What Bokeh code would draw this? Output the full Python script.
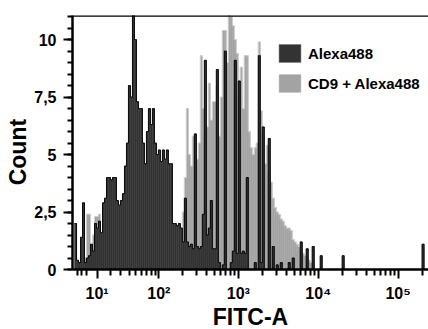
import numpy as np
from bokeh.plotting import figure
from bokeh.models import FixedTicker, Span, Legend, LegendItem, Range1d
from bokeh.embed import file_html
from bokeh.resources import INLINE

# ---- data -----------------------------------------------------------------
# Histogram channels on a logicle-like display scale (asinh with linear width W)
LOGICLE_W = 22.0
BIN_START = -0.0915      # first channel edge, display units
BIN_WIDTH = 0.025        # channel width, display units

# Count per channel, Alexa488 only (dark)
alexa488 = [
    2.0, 0.4, 0.3, 1.4, 2.9, 0.3, 0.5, 0.6, 1.1, 0.8,
    2.0, 1.8, 2.1, 1.6, 2.9, 3.1, 4.0, 4.0, 3.9, 4.0,
    4.0, 3.0, 2.8, 3.0, 3.3, 4.5, 5.5, 8.0, 7.5, 11.2,
    10.0, 7.3, 7.0, 7.0, 5.5, 4.6, 6.0, 7.0, 6.3, 7.0,
    5.5, 5.0, 5.2, 4.7, 5.2, 4.8, 5.2, 4.6, 4.6, 2.0,
    2.0, 1.9, 2.0, 1.8, 1.2, 3.1, 1.2, 1.0, 1.1, 0.9,
    5.9, 1.0, 0.9, 1.0, 2.4, 9.1, 1.5, 1.8, 3.0, 0.9,
    0.9, 8.7, 0.3, 0.0, 0.2, 9.5, 0.0, 0.0, 0.3, 0.8,
    9.1, 0.7, 8.2, 0.7, 0.8, 0.7, 4.0, 0.0, 0.0, 0.0,
    0.3, 0.0, 9.3, 0.3, 6.2, 0.0, 0.0, 5.7, 0.0, 1.0,
    0.0, 0.2, 0.0, 0.3, 0.0, 0.0, 0.0, 0.3, 0.0, 0.5,
    0.0, 0.0, 0.0, 1.2, 0.0, 0.0, 0.9, 0.0, 0.0, 1.0,
    0.0, 0.0, 0.0, 0.6, 0.0, 0.0, 0.0, 0.0, 0.0, 0.0,
    0.0, 0.0, 0.0, 0.0, 0.6, 0.0, 0.0, 0.0, 0.0, 0.0,
    0.0, 0.0, 0.0, 0.0, 0.0, 0.0, 0.0, 0.0, 0.0, 0.0,
    0.0, 0.0, 0.0, 0.0, 0.0, 0.0, 0.0, 0.0, 0.0, 0.0,
    0.0, 0.0, 0.0, 0.0, 0.0, 0.0, 0.0, 0.0, 0.0, 0.0,
    0.0, 0.0, 0.0, 0.0, 1.1, 0.0,
]

# Count per channel, CD9 + Alexa488 (light)
cd9_alexa488 = [
    0.0, 0.0, 0.3, 0.0, 0.0, 0.5, 2.4, 2.4, 0.8, 1.5,
    2.3, 2.3, 2.4, 1.0, 0.0, 0.0, 0.0, 0.0, 0.0, 0.0,
    0.0, 0.0, 0.0, 0.0, 0.0, 0.0, 0.0, 0.0, 0.0, 0.0,
    0.0, 0.0, 0.0, 0.0, 0.0, 0.0, 0.0, 0.0, 0.0, 0.0,
    0.0, 0.0, 0.0, 0.0, 0.0, 0.0, 0.0, 0.0, 0.0, 0.0,
    0.0, 0.0, 0.0, 0.8, 2.5, 4.0, 7.0, 5.0, 4.5, 5.8,
    5.8, 4.8, 5.5, 9.3, 7.0, 6.0, 6.2, 8.1, 6.5, 7.3,
    7.3, 8.0, 5.8, 7.5, 10.4, 10.4, 9.0, 11.2, 11.0, 10.6,
    10.0, 9.4, 7.5, 8.8, 7.0, 9.3, 9.3, 6.0, 5.3, 5.0,
    5.3, 5.5, 9.9, 6.9, 6.0, 4.6, 5.4, 4.2, 3.8, 3.1,
    2.7, 2.5, 2.4, 2.2, 2.1, 1.9, 1.8, 1.8, 1.7, 1.3,
    1.2, 1.1, 1.0, 0.8, 0.7, 0.6, 0.5, 0.4, 0.3, 0.3,
]

series_names = ["Alexa488", "CD9 + Alexa488"]

# axis values (FITC-A)
x_major_values = [10, 100, 1000, 10000, 100000]
x_major_labels = ["10\u00b9", "10\u00b2", "10\u00b3", "10\u2074", "10\u2075"]
x_low_minor_values = [-6, -3, 0, 3]
x_min_value, x_max_value = -6, 240000

y_major_values = [0, 2.5, 5, 7.5, 10]
y_major_labels = ["0", "2,5", "5", "7,5", "10"]
y_max = 11.05

# ---- helpers ----------------------------------------------------------------
def disp(x):
    return np.arcsinh(np.asarray(x, dtype=float) / LOGICLE_W) / np.log(10)


def bins(counts):
    n = len(counts)
    edges = BIN_START + BIN_WIDTH * np.arange(n + 1)
    return edges, np.asarray(counts, dtype=float)


FONT = "Liberation Sans"

p = figure(frame_width=356, frame_height=254, output_backend="svg",
           toolbar_location=None,
           x_range=Range1d(float(disp(x_min_value)), float(disp(x_max_value))),
           y_range=Range1d(0, y_max),
           min_border_left=72, min_border_right=0, min_border_top=15,
           min_border_bottom=10)
p.outline_line_color = None
p.grid.visible = False
p.background_fill_color = "white"
p.border_fill_color = "white"

# light histogram (behind)
e2, c2 = bins(cd9_alexa488)
r_light = p.quad(left=e2[:-1], right=e2[1:], bottom=0, top=c2,
                 fill_color="#a3a3a3", line_color="#a3a3a3", line_width=0.5)
p.step(x=e2, y=np.append(c2, c2[-1]), mode="after",
       line_color="#cfcfcf", line_width=1)

# dark histogram (front)
e1, c1 = bins(alexa488)
r_dark = p.quad(left=e1[:-1], right=e1[1:], bottom=0, top=c1,
                fill_color="#333333", line_color="#333333", line_width=0.5)
p.step(x=e1, y=np.append(c1, c1[-1]), mode="after",
       line_color="black", line_width=0.9)

# top frame line
p.add_layout(Span(location=y_max, dimension="width", line_color="black",
                  line_width=2.5))

# x axis
maj = [round(float(v), 6) for v in disp(x_major_values)]
minor_vals = list(x_low_minor_values)
for k in range(1, 6):
    for m in range(2, 10):
        minor_vals.append(m * 10 ** k)
minr = [round(float(v), 6) for v in disp(minor_vals)]
p.xaxis.ticker = FixedTicker(ticks=maj, minor_ticks=minr)
p.xaxis.major_label_overrides = {t: l for t, l in zip(maj, x_major_labels)}

p.yaxis.ticker = FixedTicker(ticks=y_major_values,
                             minor_ticks=list(np.arange(0, 11.01, 0.5)))
p.yaxis.major_label_overrides = {float(t): l for t, l in zip(y_major_values, y_major_labels)}

for ax in (p.xaxis, p.yaxis):
    ax.axis_line_width = 2.5
    ax.major_tick_line_width = 2
    ax.minor_tick_line_width = 2
    ax.major_tick_in = 0
    ax.minor_tick_in = 0
    ax.major_label_text_font = FONT
    ax.major_label_text_font_style = "bold"
    ax.major_label_text_color = "black"
    ax.axis_label_text_font = FONT
    ax.axis_label_text_font_style = "bold"
    ax.axis_label_text_color = "black"
    ax.axis_label_text_font_size = "23px"

p.xaxis.major_tick_out = 9
p.xaxis.minor_tick_out = 6
p.xaxis.major_label_standoff = 6
p.xaxis.major_label_text_font_size = "16px"
p.xaxis.axis_label = "FITC-A"
p.xaxis.axis_label_standoff = -1

p.yaxis.major_tick_out = 9
p.yaxis.minor_tick_out = 5
p.yaxis.major_label_standoff = 7
p.yaxis.major_label_text_font_size = "16px"
p.yaxis.axis_label = "Count\u00a0\u00a0\u00a0"
p.yaxis.axis_label_standoff = 0

legend = Legend(items=[LegendItem(label=series_names[0], renderers=[r_dark]),
                       LegendItem(label=series_names[1], renderers=[r_light])],
                location=(204, 175), padding=0, margin=0, spacing=8,
                glyph_width=27, glyph_height=22, label_height=22,
                label_standoff=5, border_line_color=None,
                background_fill_alpha=0,
                label_text_font=FONT, label_text_font_style="bold",
                label_text_font_size="15px", label_text_color="black")
p.add_layout(legend)

open("out.html", "w").write(file_html(p, INLINE))
